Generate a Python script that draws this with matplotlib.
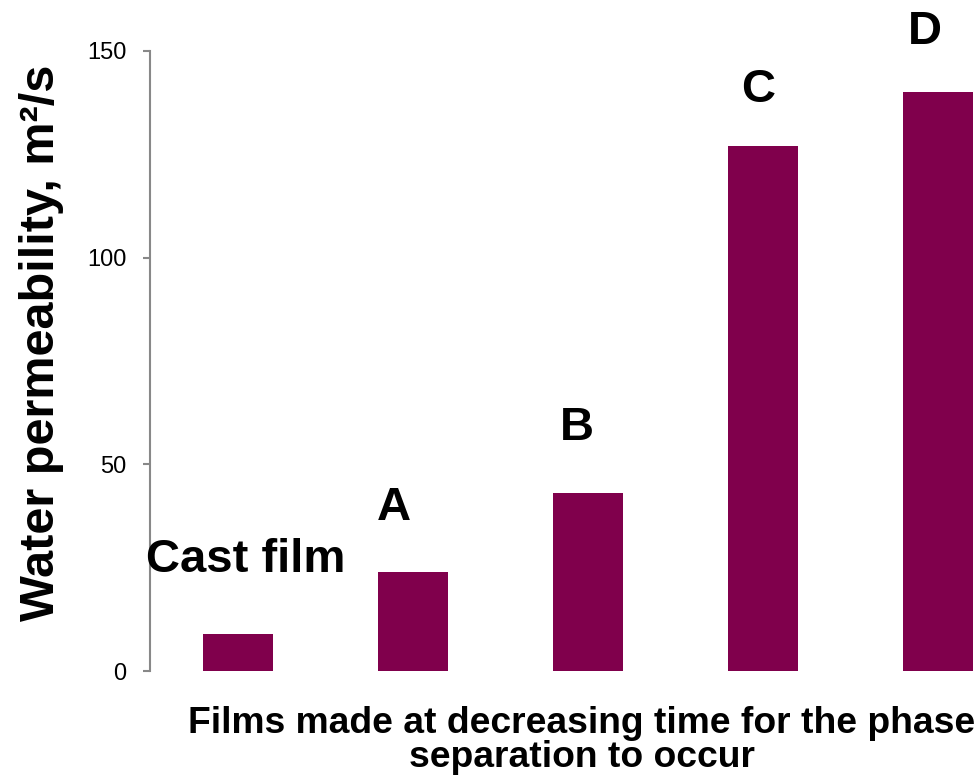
import matplotlib
matplotlib.use("Agg")
import matplotlib.pyplot as plt

plt.rcParams['font.family'] = ['Liberation Sans', 'DejaVu Sans']

# Data
categories = ["Cast film", "A", "B", "C", "D"]
permeability = [9, 24, 43, 127, 140]
y_ticks = [0, 50, 100, 150]

# Label placement (pixel offsets from each bar's top-centre to the label baseline)
label_dx = [8, -19, -11, -4, -13]
label_dy = [62, 52, 53, 44, 48]

bar_color = "#80004C"
axis_color = "#888888"

W, H = 980, 782
fig = plt.figure(figsize=(W / 100, H / 100), dpi=100)
ax = fig.add_axes([150 / W, 111 / H, 875 / W, 620 / H])

x = list(range(len(categories)))
ax.bar(x, permeability, width=0.4, color=bar_color)

ax.set_xlim(-0.5, len(categories) - 0.5)
ax.set_ylim(0, 150)
ax.set_yticks(y_ticks)
ax.set_xticks([])

for side in ("top", "right", "bottom"):
    ax.spines[side].set_visible(False)
ax.spines["left"].set_color(axis_color)
ax.spines["left"].set_linewidth(1.5)
ax.tick_params(axis="y", colors=axis_color, length=5, width=1.5, pad=12,
               labelsize=17, labelcolor="black")

px = 0.72  # points per pixel at 100 dpi
for xi, val, name, dx, dy in zip(x, permeability, categories, label_dx, label_dy):
    ax.annotate(name, xy=(xi, val), xytext=(dx * px, dy * px),
                textcoords="offset points", ha="center", va="baseline",
                fontsize=34, fontweight="bold", color="black",
                annotation_clip=False)

fig.text(42 / W, 1 - 343 / H, "Water permeability, m\u00b2/s", rotation=90,
         ha="center", va="center", fontsize=35, fontweight="bold")
fig.text(582 / W, 1 - 706 / H,
         "Films made at decreasing time for the phase\nseparation to occur",
         ha="center", va="top", fontsize=26.8, fontweight="bold",
         linespacing=0.95)

fig.savefig("out.png", dpi=100)
